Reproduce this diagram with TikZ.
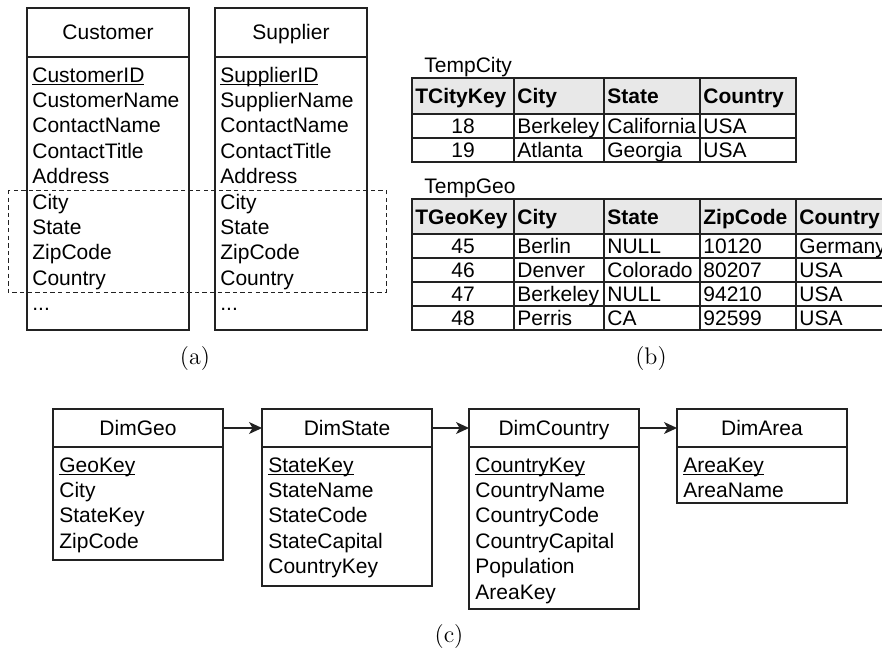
\documentclass[tikz,border=0pt]{standalone}
\usepackage{fontspec}
\newfontfamily\arialfont{Liberation Sans}
\usetikzlibrary{arrows.meta}

\definecolor{headfill}{HTML}{E8E8E8}
\definecolor{inkline}{HTML}{222222}

\tikzset{
  sans/.style={font=\arialfont\fontsize{10.5}{12.6}\selectfont},
  hdr/.style={sans, draw=inkline, line width=0.65pt, inner sep=0pt, outer sep=0pt,
              text height=7.2pt, text depth=0pt},
  bodybox/.style={draw=inkline, line width=0.65pt, inner sep=0pt, outer sep=0pt},
  attr/.style={sans, inner sep=0pt, anchor=base west},
  thead/.style={sans, font=\arialfont\bfseries\fontsize{10.5}{12.6}\selectfont,
                inner sep=0pt, anchor=base west},
  tcell/.style={sans, inner sep=0pt, anchor=base west},
  tnum/.style={sans, inner sep=0pt, anchor=base},
  tline/.style={draw=inkline, line width=0.65pt},
  caption/.style={font=\fontsize{12}{14}\selectfont, inner sep=0pt},
  link/.style={draw=inkline, line width=0.65pt,
               -{Stealth[length=6.5pt, width=6pt, inset=1.8pt]}},
  group/.style={draw=inkline, line width=0.5pt, dash pattern=on 2.2pt off 1.6pt},
}

% entity box: name, left, top, width, header bottom, bottom, title
\newcommand\entitybox[7]{%
  \node[hdr, anchor=north west, minimum width={#4*0.5pt},
        minimum height={(#5-#3)*0.5pt}] (#1) at (#2,#3) {#7};
  \node[bodybox, anchor=north west, minimum width={#4*0.5pt},
        minimum height={(#6-#5)*0.5pt}] (#1-b) at (#1.south west) {};
}
% attribute list: name, x, first baseline, line step, items
\newcommand\attrlist[5]{%
  \foreach \f [count=\i] in {#5}
    \node[attr] (#1-f\i) at (#2, {#3+#4*(\i-1)}) {\f};
}
\newcommand\pk[1]{\underline{\smash{#1}}}
% literal three dots (kept out of \foreach range syntax)
\newcommand\moreattrs{...}

\begin{document}
\begin{tikzpicture}[x=0.5pt, y=-0.5pt]
\useasboundingbox (0,0) rectangle (882,655);
\clip (0,0) rectangle (882,655);

% ---------- (a) source tables ----------
\entitybox{cust}{27}{8}{162}{57}{330}{Customer}
\attrlist{cust}{32}{82}{25.4}{\pk{CustomerID},CustomerName,ContactName,ContactTitle,Address,City,State,ZipCode,Country,\moreattrs}
\entitybox{supp}{215}{8}{152}{57}{330}{Supplier}
\attrlist{supp}{220}{82}{25.4}{\pk{SupplierID},SupplierName,ContactName,ContactTitle,Address,City,State,ZipCode,Country,\moreattrs}
\draw[group] (8,190) rectangle (386,292);
\node[caption] (cap-a) at (195,358) {(a)};

% ---------- (b) temporary tables ----------
\node[attr] (tcity-name) at (424,72) {TempCity};
\fill[headfill] (412,78) rectangle (796,114);
\draw[tline] (412,78) rectangle (796,162);
\foreach \yy in {114,138} \draw[tline] (412,\yy) -- (796,\yy);
\foreach \xx in {514,604,700} \draw[tline] (\xx,78) -- (\xx,162);
\foreach \t/\xx [count=\i] in {TCityKey/412,City/514,State/604,Country/700}
  \node[thead] (tcity-h\i) at (\xx+3,103.5) {\t};
\node[tnum] (tcity-k1) at (463,133.5) {18};
\node[tnum] (tcity-k2) at (463,157.5) {19};
\foreach \t/\xx [count=\i] in {Berkeley/514,California/604,USA/700}
  \node[tcell] (tcity-r1c\i) at (\xx+3,133.5) {\t};
\foreach \t/\xx [count=\i] in {Atlanta/514,Georgia/604,USA/700}
  \node[tcell] (tcity-r2c\i) at (\xx+3,157.5) {\t};

\node[attr] (tgeo-name) at (424,193) {TempGeo};
\fill[headfill] (412,199) rectangle (910,234);
\draw[tline] (412,199) rectangle (910,330);
\foreach \yy in {234,258,282,306} \draw[tline] (412,\yy) -- (910,\yy);
\foreach \xx in {514,604,700,796} \draw[tline] (\xx,199) -- (\xx,330);
\foreach \t/\xx [count=\i] in {TGeoKey/412,City/514,State/604,ZipCode/700,Country/796}
  \node[thead] (tgeo-h\i) at (\xx+3,224) {\t};
\foreach \k/\ci/\st/\zp/\co/\yy [count=\r] in {45/Berlin/NULL/10120/Germany/253.5,46/Denver/Colorado/80207/USA/277.5,47/Berkeley/NULL/94210/USA/301.5,48/Perris/CA/92599/USA/325.5}{
  \node[tnum]  (tgeo-r\r c1) at (463,\yy) {\k};
  \node[tcell] (tgeo-r\r c2) at (517,\yy) {\ci};
  \node[tcell] (tgeo-r\r c3) at (607,\yy) {\st};
  \node[tcell] (tgeo-r\r c4) at (703,\yy) {\zp};
  \node[tcell] (tgeo-r\r c5) at (799,\yy) {\co};
}
\node[caption] (cap-b) at (651,358) {(b)};

% ---------- (c) snowflake hierarchy ----------
\entitybox{geo}{53}{409}{170}{447}{560}{DimGeo}
\attrlist{geo}{59}{472}{25.4}{\pk{GeoKey},City,StateKey,ZipCode}
\entitybox{state}{262}{409}{170}{447}{586}{DimState}
\attrlist{state}{268}{472}{25.4}{\pk{StateKey},StateName,StateCode,StateCapital,CountryKey}
\entitybox{country}{469}{409}{170}{447}{609}{DimCountry}
\attrlist{country}{475}{472}{25.4}{\pk{CountryKey},CountryName,CountryCode,CountryCapital,Population,AreaKey}
\entitybox{area}{677}{409}{170}{447}{503}{DimArea}
\attrlist{area}{683}{472}{25.4}{\pk{AreaKey},AreaName}

\draw[link] (geo.east) -- (state.west);
\draw[link] (state.east) -- (country.west);
\draw[link] (country.east) -- (area.west);
\node[caption] (cap-c) at (449,636) {(c)};
\end{tikzpicture}
\end{document}
